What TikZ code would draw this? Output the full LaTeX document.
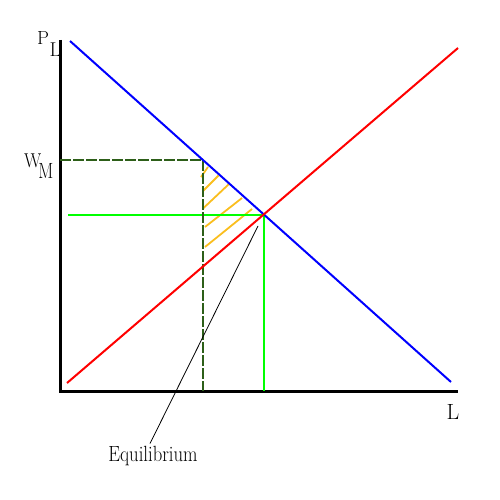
\documentclass[tikz,border=0pt]{standalone}
\usepackage{fontspec}
\setmainfont{Latin Modern Roman}
\usepackage{graphicx}
\begin{document}
\begin{tikzpicture}[x=1pt,y=-1pt,
  axis/.style={line width=3pt,black},
  demand/.style={line width=2pt,blue},
  supply/.style={line width=2pt,red},
  eqline/.style={line width=2pt,green},
  wline/.style={line width=2pt,darkgr,dash pattern=on 11pt off 2pt},
  hatch/.style={line width=1.8pt,hatchorange},
  lbl/.style={inner sep=0pt,anchor=base west,font=\fontsize{22}{24}\selectfont}]
\definecolor{darkgr}{RGB}{45,95,25}
\definecolor{hatchorange}{RGB}{250,190,30}
\useasboundingbox (0,0) rectangle (500,500);
% axes
\coordinate (O) at (60,391);
\coordinate (ytop) at (60,40);
\coordinate (xend) at (458,391);
\draw[axis] (ytop) -- (O) -- (xend);
% curves
\coordinate (d1) at (70,41);
\coordinate (d2) at (451,382);
\coordinate (s1) at (67,383);
\coordinate (s2) at (458,48);
\coordinate (E) at (263.5,215);
% hatching
\coordinate (h1a) at (201,177); \coordinate (h1b) at (208,167);
\coordinate (h2a) at (203,191); \coordinate (h2b) at (218.5,175.5);
\coordinate (h3a) at (203,208.5); \coordinate (h3b) at (229,184);
\coordinate (h4a) at (205,227); \coordinate (h4b) at (242,198);
\coordinate (h5a) at (205,247); \coordinate (h5b) at (252,209);
\foreach \i in {1,...,5} \draw[hatch] (h\i a) -- (h\i b);
% green equilibrium lines
\coordinate (ge) at (68,215);
\coordinate (gb) at (263.5,391);
\draw[eqline] (ge) -- (E) -- (gb);
% wage lines
\coordinate (wl) at (60,160);
\coordinate (wc) at (203,160);
\coordinate (wb) at (203,391);
\draw[wline] (wl) -- (wc) -- (wb);
\draw[demand] (d1) -- (d2);
\draw[supply] (s1) -- (s2);
% labels
\node[lbl] (PL) at (37,45) {{\fontsize{19}{20}\selectfont P}\kern0.5pt\raisebox{-12pt}{\fontsize{20}{22}\selectfont L}};
\node[lbl] (WM) at (24,167) {{\fontsize{20}{22}\selectfont\scalebox{0.9}[1]{W}}\kern-3pt\raisebox{-11pt}{\fontsize{22}{24}\selectfont\scalebox{0.8}[1]{M}}};
\node[lbl] (L) at (446.5,419) {L};
\node[lbl,anchor=base] (eq) at (153,461) {\scalebox{0.85}[1]{Equilibrium}};
\coordinate (lead) at (258,226);
\draw[line width=0.8pt] (lead) -- ([xshift=-3pt,yshift=2pt]eq.north);
\end{tikzpicture}
\end{document}
